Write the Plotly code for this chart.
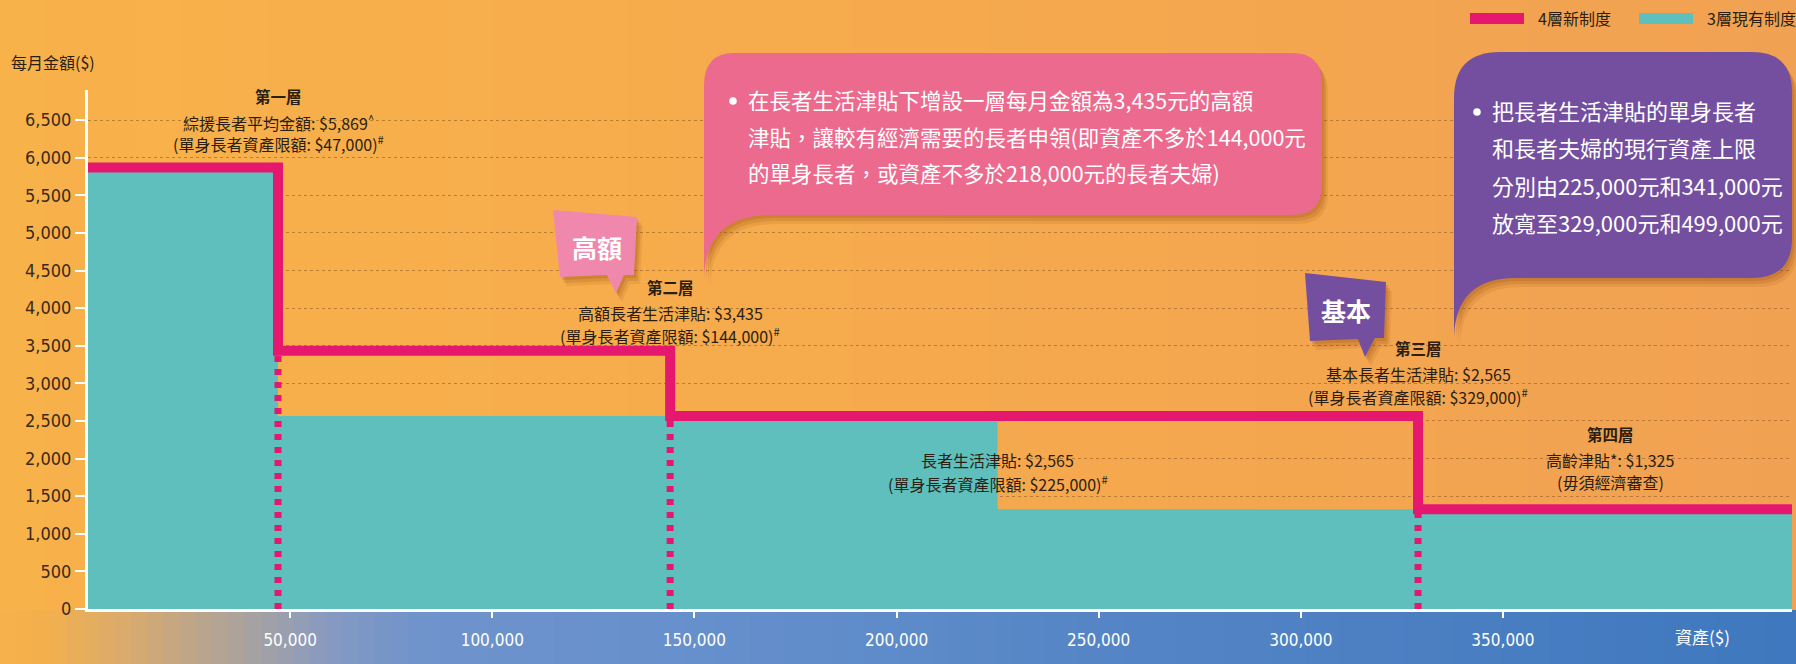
import plotly.graph_objects as go

# ---------------- data ----------------
NEW_THRESHOLDS = [0, 47000, 144000, 329000]      # 4層新制度: asset limits where each tier starts
NEW_AMOUNTS = [5869, 3435, 2565, 1325]           # monthly amount of each tier
CUR_THRESHOLDS = [0, 47000, 225000]              # 3層現有制度
CUR_AMOUNTS = [5869, 2565, 1325]
X_MAX = 421500
Y_MAX = 6900
X_TICKS = [50000, 100000, 150000, 200000, 250000, 300000, 350000]
X_TICK_LABELS = ["50,000", "100,000", "150,000", "200,000", "250,000", "300,000", "350,000"]
Y_TICKS = [0, 500, 1000, 1500, 2000, 2500, 3000, 3500, 4000, 4500, 5000, 5500, 6000, 6500]

TIER_HEADS = ["第一層", "第二層", "第三層", "第四層"]
TIER_LINE1 = ["綜援長者平均金額: $5,869<sup>^</sup>", "高額長者生活津貼: $3,435",
              "基本長者生活津貼: $2,565", "高齡津貼*: $1,325"]
TIER_LINE2 = ["(單身長者資產限額: $47,000)<sup>#</sup>", "(單身長者資產限額: $144,000)<sup>#</sup>",
              "(單身長者資產限額: $329,000)<sup>#</sup>", "(毋須經濟審查)"]
CUR_LINE1 = "長者生活津貼: $2,565"
CUR_LINE2 = "(單身長者資產限額: $225,000)<sup>#</sup>"

PINK_LINES = ["在長者生活津貼下增設一層每月金額為3,435元的高額",
              "津貼，讓較有經濟需要的長者申領(即資產不多於144,000元",
              "的單身長者，或資產不多於218,000元的長者夫婦)"]
PURPLE_LINES = ["把長者生活津貼的單身長者",
                "和長者夫婦的現行資產上限",
                "分別由225,000元和341,000元",
                "放寬至329,000元和499,000元"]
LEGEND_NAMES = ["4層新制度", "3層現有制度"]

# ---------------- style ----------------
W, H = 1796, 664
ML, MR, MT, MB = 88, 4, 90, 55
PW = W - ML - MR
PH = H - MT - MB

MAGENTA = "#E5176F"
TEAL = "#5FBFBC"
PINK = "#EC6A8D"
BADGE_PINK = "#EF88AC"
PURPLE = "#744F9F"
DARK = "#2B1E12"
CJK = "Noto Sans CJK TC, Noto Sans CJK SC, sans-serif"
NARROW = "Liberation Sans Narrow, Arial Narrow, DejaVu Sans Condensed, Liberation Sans, sans-serif"


def px(x):
    return (x - ML) / PW


def py(y):
    return (H - MB - y) / PH


def hex2rgb(h):
    h = h.lstrip("#")
    return tuple(int(h[i:i + 2], 16) for i in (0, 2, 4))


def interp(stops, x):
    for (x0, c0), (x1, c1) in zip(stops[:-1], stops[1:]):
        if x0 <= x <= x1:
            t = (x - x0) / (x1 - x0) if x1 > x0 else 0
            a, b = hex2rgb(c0), hex2rgb(c1)
            return "rgb(%d,%d,%d)" % tuple(round(a[i] + (b[i] - a[i]) * t) for i in range(3))
    return stops[-1][1]


def path(points):
    out = []
    for cmd in points:
        if cmd[0] in ("M", "L"):
            x, y = cmd[1]
            out.append("%s %.5f,%.5f" % (cmd[0], px(x), py(y)))
        elif cmd[0] == "Q":
            (cx, cy), (x, y) = cmd[1], cmd[2]
            out.append("Q %.5f,%.5f %.5f,%.5f" % (px(cx), py(cy), px(x), py(y)))
    return " ".join(out) + " Z"


def shifted(points, dx, dy):
    res = []
    for cmd in points:
        if cmd[0] in ("M", "L"):
            res.append((cmd[0], (cmd[1][0] + dx, cmd[1][1] + dy)))
        else:
            res.append(("Q", (cmd[1][0] + dx, cmd[1][1] + dy), (cmd[2][0] + dx, cmd[2][1] + dy)))
    return res


shapes = []
annotations = []

# background horizontal gradient (orange)
BG_STOPS = [(0, "#F8B24A"), (900, "#F6AA4D"), (1796, "#F1A152")]
N = 40
for i in range(N):
    x0 = W * i / N
    x1 = W * (i + 1) / N + 1
    shapes.append(dict(type="rect", xref="paper", yref="paper", layer="below",
                       x0=px(x0), x1=px(x1), y0=py(H), y1=py(0),
                       fillcolor=interp(BG_STOPS, (x0 + x1) / 2), line=dict(width=0)))

# band under x-axis (orange -> blue)
BAND_STOPS = [(0, "#F7B14B"), (50, "#F3AF4E"), (130, "#D8AB6E"), (200, "#BBA58C"),
              (270, "#A0A1A8"), (330, "#8699C2"), (420, "#6F93CC"), (700, "#6690CC"),
              (1100, "#5585C6"), (1796, "#3F78BE")]
N = 110
for i in range(N):
    x0 = W * i / N
    x1 = W * (i + 1) / N + 1
    shapes.append(dict(type="rect", xref="paper", yref="paper", layer="below",
                       x0=px(x0), x1=px(x1), y0=py(H), y1=py(H - MB + 1),
                       fillcolor=interp(BAND_STOPS, (x0 + x1) / 2), line=dict(width=0)))

# speech bubbles and badges
pink_bubble = [("M", (734, 53)), ("L", (1292, 53)), ("Q", (1322, 53), (1322, 83)),
               ("L", (1322, 185)), ("Q", (1322, 215), (1292, 215)), ("L", (770, 215)),
               ("Q", (706, 215), (704, 278)), ("L", (704, 86)), ("Q", (704, 53), (734, 53))]
purple_bubble = [("M", (1500, 52)), ("L", (1752, 52)), ("Q", (1792, 52), (1792, 92)),
                 ("L", (1792, 238)), ("Q", (1792, 278), (1752, 278)), ("L", (1515, 278)),
                 ("Q", (1456, 278), (1454, 337)), ("L", (1454, 98)), ("Q", (1454, 52), (1500, 52))]
badge_high = [("M", (553, 210)), ("L", (637, 217)), ("L", (634, 275)), ("L", (624, 275)),
              ("L", (616, 293)), ("L", (607, 275)), ("L", (560, 277))]
badge_basic = [("M", (1305, 273)), ("L", (1386, 282)), ("L", (1384, 338)), ("L", (1375, 338)),
               ("L", (1365, 357)), ("L", (1358, 339)), ("L", (1310, 341))]

for shp, col in [(pink_bubble, PINK), (purple_bubble, PURPLE), (badge_high, BADGE_PINK), (badge_basic, PURPLE)]:
    for (dx, dy, a) in [(6, 9, 0.10), (4, 6, 0.14), (2, 3, 0.16)]:
        shapes.append(dict(type="path", xref="paper", yref="paper", layer="above",
                           path=path(shifted(shp, dx, dy)),
                           fillcolor="rgba(130,60,0,%.2f)" % a, line=dict(width=0)))
    shapes.append(dict(type="path", xref="paper", yref="paper", layer="above",
                       path=path(shp), fillcolor=col, line=dict(width=0)))

# bullets in bubbles
for (cx, cy) in [(733, 101), (1477, 112)]:
    shapes.append(dict(type="circle", xref="paper", yref="paper", layer="above",
                       x0=px(cx - 3.8), x1=px(cx + 3.8), y0=py(cy + 3.8), y1=py(cy - 3.8),
                       fillcolor="white", line=dict(width=0)))

# legend swatches
shapes.append(dict(type="rect", xref="paper", yref="paper", x0=px(1470), x1=px(1524),
                   y0=py(24), y1=py(13), fillcolor=MAGENTA, line=dict(width=0)))
shapes.append(dict(type="rect", xref="paper", yref="paper", x0=px(1639), x1=px(1693),
                   y0=py(24), y1=py(13), fillcolor=TEAL, line=dict(width=0)))


def ann(text, x, y, size=16, color=DARK, xanchor="center", bold=False, family=CJK, xref="paper"):
    annotations.append(dict(text=("<b>%s</b>" % text) if bold else text,
                            x=x if xref == "x" else px(x), y=py(y), xref=xref, yref="paper",
                            xanchor=xanchor, yanchor="middle", showarrow=False,
                            font=dict(size=size, color=color, family=family)))


# legend texts
ann(LEGEND_NAMES[0], 1536, 18, size=16, xanchor="left")
ann(LEGEND_NAMES[1], 1705, 18, size=16, xanchor="left")

# axis titles
ann("每月金額($)", 9, 62, size=16, xanchor="left")
ann("資產($)", 1702, 636, size=17, color="white")

# tier labels
tier_x = [NEW_THRESHOLDS[1], NEW_THRESHOLDS[2], NEW_THRESHOLDS[3], None]
tier_y = [(96, 122, 143), (287, 313, 335), (348, 374, 396), (434, 460, 482)]
for i in range(4):
    if tier_x[i] is not None:
        xv, xr = tier_x[i], "x"
    else:
        xv, xr = 1610, "paper"
    ann(TIER_HEADS[i], xv, tier_y[i][0], size=15.5, bold=True, xref=xr)
    ann(TIER_LINE1[i], xv, tier_y[i][1], size=16, xref=xr)
    ann(TIER_LINE2[i], xv, tier_y[i][2], size=16, xref=xr)
ann(CUR_LINE1, CUR_THRESHOLDS[2], 460, size=16, xref="x")
ann(CUR_LINE2, CUR_THRESHOLDS[2], 483, size=16, xref="x")

# bubble texts
for i, t in enumerate(PINK_LINES):
    ann(t, 746, 100 + 36 * i, size=21.5, color="white", xanchor="left")
for i, t in enumerate(PURPLE_LINES):
    ann(t, 1490, 110 + 37.3 * i, size=22, color="white", xanchor="left")

# badges
ann("高額", 597, 247, size=25, color="white", bold=True)
ann("基本", 1346, 310, size=25, color="white", bold=True)

# ---------------- traces ----------------
fig = go.Figure()

cur_x = CUR_THRESHOLDS + [X_MAX]
cur_y = CUR_AMOUNTS + [CUR_AMOUNTS[-1]]
fig.add_trace(go.Scatter(x=cur_x, y=cur_y, mode="lines", line_shape="hv",
                         fill="tozeroy", fillcolor=TEAL, line=dict(width=0, color=TEAL),
                         name=LEGEND_NAMES[1], hoverinfo="skip"))

for t, a in zip(NEW_THRESHOLDS[1:], NEW_AMOUNTS[1:]):
    fig.add_trace(go.Scatter(x=[t, t], y=[0, a], mode="lines",
                             line=dict(color=MAGENTA, width=7, dash="6px,7px"),
                             hoverinfo="skip", showlegend=False))

new_x = NEW_THRESHOLDS + [X_MAX]
new_y = NEW_AMOUNTS + [NEW_AMOUNTS[-1]]
fig.add_trace(go.Scatter(x=new_x, y=new_y, mode="lines", line_shape="hv",
                         line=dict(color=MAGENTA, width=10),
                         name=LEGEND_NAMES[0], hoverinfo="skip"))

fig.update_layout(
    width=W, height=H,
    margin=dict(l=ML, r=MR, t=MT, b=MB, pad=0),
    paper_bgcolor="#F6AC4C",
    plot_bgcolor="rgba(0,0,0,0)",
    showlegend=False,
    shapes=shapes,
    annotations=annotations,
    xaxis=dict(range=[0, X_MAX], tickvals=X_TICKS, ticktext=X_TICK_LABELS,
               showgrid=False, zeroline=False, showline=True, linecolor="white", linewidth=3,
               ticks="outside", ticklen=6, tickwidth=2, tickcolor="white",
               ticklabelstandoff=8,
               tickfont=dict(size=17, color="white", family=NARROW), fixedrange=True),
    yaxis=dict(range=[0, Y_MAX], tickvals=Y_TICKS, tickformat=",d",
               showgrid=True, gridcolor="rgba(140,85,30,0.55)", gridwidth=1, griddash="dot",
               zeroline=False, showline=True, linecolor="white", linewidth=3,
               ticks="outside", ticklen=10, tickwidth=2, tickcolor="white",
               tickfont=dict(size=18, color="#3A2A1C", family=NARROW), fixedrange=True),
)

fig.write_html("out.html", config=dict(displayModeBar=False))
